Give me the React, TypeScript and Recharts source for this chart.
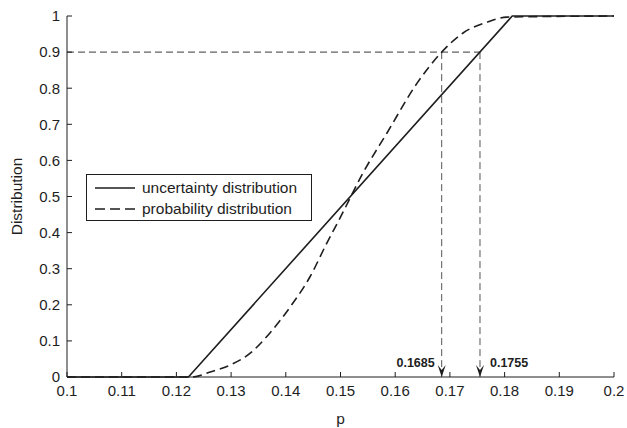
import { Legend, Line, LineChart, ReferenceDot, ReferenceLine, XAxis, YAxis } from "recharts";

// uncertainty distribution (solid)
const uncertaintyP = [0.1, 0.1222, 0.1814, 0.2];
const uncertaintyValues = [0, 0, 1, 1];

// probability distribution (dashed)
const probabilityP = [
	0.1, 0.1228, 0.1262, 0.1298, 0.1335, 0.1371, 0.1408, 0.1444, 0.1475, 0.1499, 0.1541, 0.1585, 0.164, 0.1685,
	0.1724, 0.1768, 0.1804, 0.2,
];
const probabilityValues = [
	0, 0, 0.014, 0.033, 0.066, 0.122, 0.194, 0.277, 0.371, 0.44, 0.565, 0.676, 0.814, 0.9, 0.953, 0.983, 0.997, 1,
];

const xTicks = [0.1, 0.11, 0.12, 0.13, 0.14, 0.15, 0.16, 0.17, 0.18, 0.19, 0.2];
const yTicks = [0, 0.1, 0.2, 0.3, 0.4, 0.5, 0.6, 0.7, 0.8, 0.9, 1];

const level = 0.9;
const quantiles = [0.1685, 0.1755];
const quantileLabels = ["0.1685", "0.1755"];

const uncertaintyData = uncertaintyP.map((p, i) => ({ p, v: uncertaintyValues[i] }));
const probabilityData = probabilityP.map((p, i) => ({ p, v: probabilityValues[i] }));

const FONT = "'Liberation Sans', Arial, sans-serif";
const INK = "#1e1e1e";

function arrowShape(label: string, side: "left" | "right") {
	return (props: { cx?: number; cy?: number }) => {
		const cx = props.cx ?? 0;
		const cy = props.cy ?? 0;
		return (
			<g>
				<path d={`M${cx - 4},${cy - 12} L${cx},${cy} L${cx + 4},${cy - 12} L${cx},${cy - 7} Z`} fill={INK} />
				<text
					x={side === "left" ? cx - 7 : cx + 10}
					y={cy - 10}
					textAnchor={side === "left" ? "end" : "start"}
					fontSize={12.5}
					fontWeight="bold"
					fontFamily={FONT}
					fill={INK}
				>
					{label}
				</text>
			</g>
		);
	};
}

function LegendBox() {
	return (
		<div
			style={{
				width: 224,
				height: 45,
				border: `1px solid ${INK}`,
				background: "#fff",
				boxSizing: "content-box",
			}}
		>
			<svg width={224} height={45} style={{ display: "block" }}>
				<line x1={8} x2={48} y1={13} y2={13} stroke={INK} strokeWidth={1.5} />
				<text x={55} y={18} fontSize={15.5} fontFamily={FONT} fill={INK}>
					uncertainty distribution
				</text>
				<line x1={8} x2={48} y1={34} y2={34} stroke={INK} strokeWidth={1.5} strokeDasharray="10 5" />
				<text x={55} y={39} fontSize={15.5} fontFamily={FONT} fill={INK}>
					probability distribution
				</text>
			</svg>
		</div>
	);
}

export default function App() {
	return (
		<div style={{ position: "absolute", left: 0, top: 0, background: "#fff" }}>
			<LineChart width={627} height={428} margin={{ top: 16, right: 13, left: 0, bottom: 0 }}>
				<XAxis
					dataKey="p"
					type="number"
					domain={[0.1, 0.2]}
					ticks={xTicks}
					tickFormatter={(v: number) => String(v)}
					allowDataOverflow
					height={51}
					stroke={INK}
					tickSize={-5}
					tickMargin={13}
					tick={{ fontSize: 15, fill: INK, fontFamily: FONT }}
					label={{ value: "p", position: "insideBottom", offset: 4, fontSize: 15.5, fill: INK, fontFamily: FONT }}
				/>
				<YAxis
					type="number"
					domain={[0, 1]}
					ticks={yTicks}
					tickFormatter={(v: number) => String(v)}
					width={67}
					stroke={INK}
					tickSize={-5}
					tickMargin={12}
					tick={{ fontSize: 15, fill: INK, fontFamily: FONT }}
					label={{
						value: "Distribution",
						angle: -90,
						position: "insideLeft",
						offset: 16,
						fontSize: 15.5,
						fill: INK,
						fontFamily: FONT,
						style: { textAnchor: "middle" },
					}}
				/>
				<Legend
					layout="horizontal"
					verticalAlign="middle"
					align="center"
					content={() => <LegendBox />}
					wrapperStyle={{ position: "absolute", left: 86, top: 174, width: 226, height: 47 }}
				/>
				<ReferenceLine
					segment={[
						{ x: 0.1, y: level },
						{ x: quantiles[1], y: level },
					]}
					stroke="#3a3a3a"
					strokeDasharray="7 4"
				/>
				{quantiles.map((q) => (
					<ReferenceLine
						key={q}
						segment={[
							{ x: q, y: level },
							{ x: q, y: 0 },
						]}
						stroke="#555"
						strokeDasharray="7 4"
					/>
				))}
				<Line
					data={uncertaintyData}
					dataKey="v"
					type="linear"
					stroke={INK}
					strokeWidth={1.6}
					dot={false}
					isAnimationActive={false}
					name="uncertainty distribution"
				/>
				<Line
					data={probabilityData}
					dataKey="v"
					type="monotone"
					stroke={INK}
					strokeWidth={1.6}
					strokeDasharray="9 5"
					dot={false}
					isAnimationActive={false}
					name="probability distribution"
				/>
				{quantiles.map((q, i) => (
					<ReferenceDot
						key={`arrow-${q}`}
						x={q}
						y={0}
						r={0}
						shape={arrowShape(quantileLabels[i], i === 0 ? "left" : "right")}
					/>
				))}
			</LineChart>
		</div>
	);
}
